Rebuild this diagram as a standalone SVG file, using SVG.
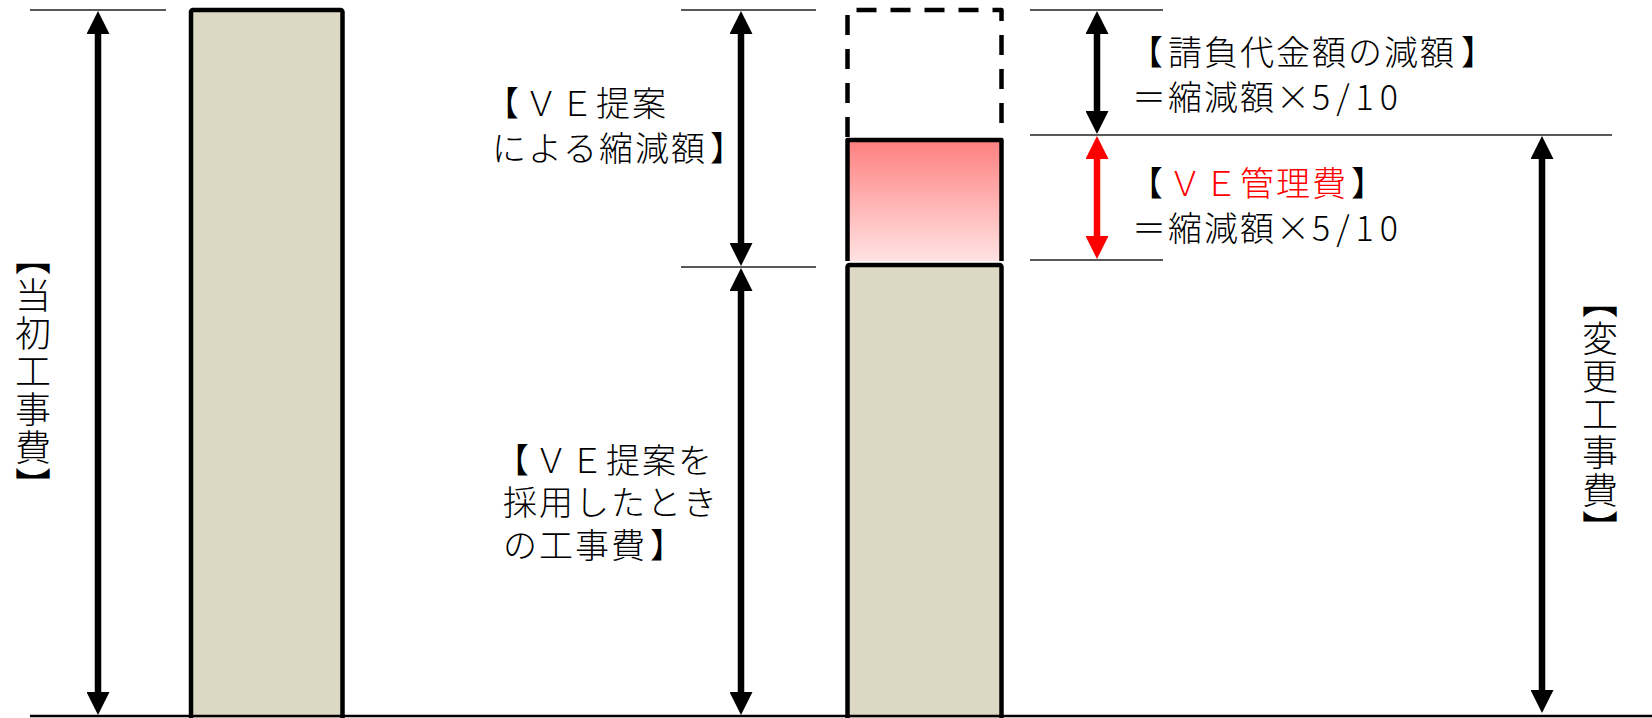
<svg xmlns="http://www.w3.org/2000/svg" width="1652" height="718" viewBox="0 0 1652 718">
<style>
  .t { font-family: "Noto Sans CJK JP", "Noto Sans CJK SC", sans-serif; font-size: 34px; letter-spacing: 2px; fill: #000; font-weight: 300; }
  .v { font-family: "Noto Sans CJK JP", "Noto Sans CJK SC", sans-serif; font-size: 36px; letter-spacing: 2px; fill: #000; font-weight: 300; writing-mode: vertical-rl; text-anchor: middle; }
  .red { fill: #FF0000; }
  .num { letter-spacing: 6px; }
  .guide { stroke: #222; stroke-width: 1.5; fill: none; }
  .bar { fill: #DDD8C3; stroke: #000; stroke-width: 4.5; stroke-linejoin: round; }
  .edge { fill: none; stroke: #000; stroke-width: 4.5; stroke-linejoin: round; }
  .arr { stroke: #000; stroke-width: 6.5; marker-start: url(#ahs); marker-end: url(#ah); }
  .arrR { stroke: #FF0000; stroke-width: 6.5; marker-start: url(#ahrs); marker-end: url(#ahr); }
</style>
<defs>
  <marker id="ah" viewBox="0 0 23 23" markerWidth="23" markerHeight="23" markerUnits="userSpaceOnUse" refX="1" refY="11.5" orient="auto">
    <path d="M0,0 L23,11.5 L0,23 z" fill="#000"/>
  </marker>
  <marker id="ahs" viewBox="0 0 23 23" markerWidth="23" markerHeight="23" markerUnits="userSpaceOnUse" refX="1" refY="11.5" orient="auto-start-reverse">
    <path d="M0,0 L23,11.5 L0,23 z" fill="#000"/>
  </marker>
  <marker id="ahr" viewBox="0 0 23 23" markerWidth="23" markerHeight="23" markerUnits="userSpaceOnUse" refX="1" refY="11.5" orient="auto">
    <path d="M0,0 L23,11.5 L0,23 z" fill="#FF0000"/>
  </marker>
  <marker id="ahrs" viewBox="0 0 23 23" markerWidth="23" markerHeight="23" markerUnits="userSpaceOnUse" refX="1" refY="11.5" orient="auto-start-reverse">
    <path d="M0,0 L23,11.5 L0,23 z" fill="#FF0000"/>
  </marker>
  <linearGradient id="pink" x1="0" y1="0" x2="0" y2="1">
    <stop offset="0" stop-color="#FF8080"/>
    <stop offset="1" stop-color="#FFE2E2"/>
  </linearGradient>
</defs>

<rect width="1652" height="718" fill="#FFFFFF"/>

<g id="bar-initial">
  <rect class="bar" x="191" y="10" width="151.5" height="715" rx="2"/>
</g>

<g id="bar-reduced-dashed">
  <path d="M847.5,137 V10 H1001.5 V137" fill="none" stroke="#000" stroke-width="4.5" stroke-dasharray="20 14" stroke-linejoin="round"/>
</g>

<g id="bar-ve-fee">
  <rect x="847.5" y="140" width="154" height="121" fill="url(#pink)"/>
  <path class="edge" d="M847.5,261 V140 H1001.5 V261"/>
</g>

<g id="bar-after">
  <rect class="bar" x="847.5" y="265" width="154" height="460" rx="2"/>
</g>

<g id="connectors">
  <line class="guide" x1="30" y1="10" x2="166" y2="10"/>
  <line class="guide" x1="681" y1="10" x2="816" y2="10"/>
  <line class="guide" x1="681" y1="267" x2="816" y2="267"/>
  <line class="guide" x1="1030" y1="10" x2="1163" y2="10"/>
  <line class="guide" x1="1030" y1="135" x2="1612" y2="135"/>
  <line class="guide" x1="1030" y1="260" x2="1163" y2="260"/>
  <line x1="30" y1="716" x2="1652" y2="716" stroke="#000" stroke-width="2.5"/>

  <line class="arr" x1="98" y1="33" x2="98" y2="693"/>
  <line class="arr" x1="741" y1="33" x2="741" y2="244"/>
  <line class="arr" x1="741" y1="290" x2="741" y2="693"/>
  <line class="arr" x1="1097" y1="33" x2="1097" y2="112"/>
  <line class="arrR" x1="1097" y1="158" x2="1097" y2="237"/>
  <line class="arr" x1="1542" y1="158" x2="1542" y2="691"/>
</g>

<g id="label-initial">
  <text class="v" x="33" y="372">【当初工事費】</text>
</g>

<g id="label-changed">
  <text class="v" x="1600" y="415">【変更工事費】</text>
</g>

<g id="label-reduction">
  <text class="t" x="493" y="116"><tspan dx="-8">【</tspan><tspan dx="3">ＶＥ提案</tspan></text>
  <text class="t" x="492" y="161">による縮減額<tspan dx="3">】</tspan></text>
</g>

<g id="label-adopted">
  <text class="t" x="503" y="473"><tspan dx="-8">【</tspan><tspan dx="3">ＶＥ提案を</tspan></text>
  <text class="t" x="503" y="515">採用したとき</text>
  <text class="t" x="503" y="558">の工事費<tspan dx="3">】</tspan></text>
</g>

<g id="label-contract">
  <text class="t" x="1137" y="65"><tspan dx="-8">【</tspan><tspan dx="3">請負代金額の減額</tspan><tspan dx="5">】</tspan></text>
  <text class="t" x="1132" y="110">＝縮減額×<tspan class="num">5/10</tspan></text>
</g>

<g id="label-vefee">
  <text class="t" x="1137" y="196"><tspan dx="-8">【</tspan><tspan dx="3" class="red">ＶＥ管理費</tspan><tspan dx="3">】</tspan></text>
  <text class="t" x="1132" y="241">＝縮減額×<tspan class="num">5/10</tspan></text>
</g>
</svg>
